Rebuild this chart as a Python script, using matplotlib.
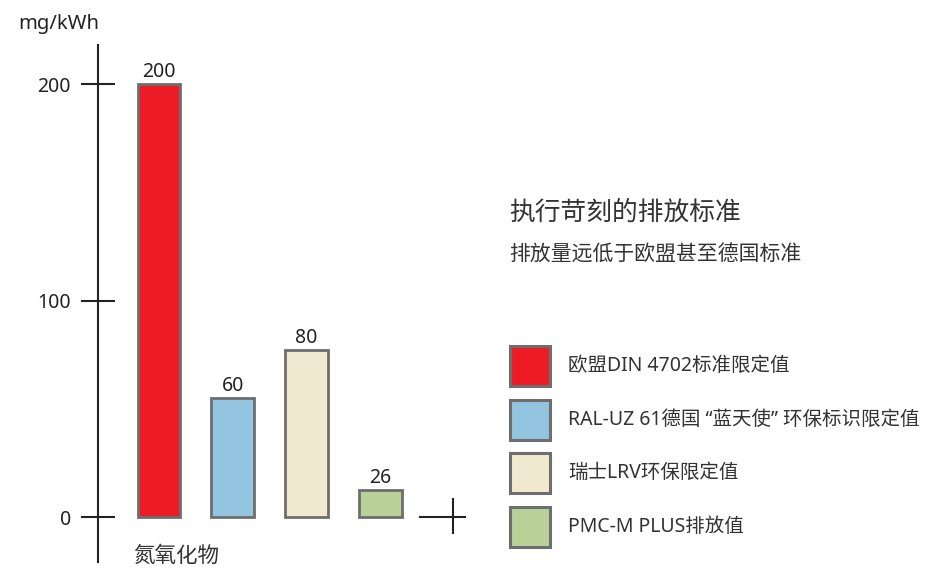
import matplotlib.pyplot as plt
from matplotlib.patches import Rectangle

plt.rcParams['font.family'] = ['Noto Sans', 'Noto Sans CJK SC']

# data
categories = ['欧盟DIN 4702标准限定值', 'RAL-UZ 61德国 “蓝天使” 环保标识限定值',
              '瑞士LRV环保限定值', 'PMC-M PLUS排放值']
bar_heights = [200, 55, 77, 12.5]
bar_texts = ['200', '60', '80', '26']
colors = ['#ED1C24', '#93C4E0', '#F1E9CF', '#B9D198']
yticks = [0, 100, 200]

W, H = 928, 569
fig = plt.figure(figsize=(W / 100, H / 100), dpi=100)
ax = fig.add_axes([0, 0, 1, 1])
ax.set_xlim(-2.155, 10.42)
ax.set_ylim(-24.0, 238.8)

x = list(range(len(bar_heights)))
bars = ax.bar(x, bar_heights, width=0.58, color=colors, edgecolor='#6e6e6e', linewidth=2)
ax.bar_label(bars, labels=bar_texts, padding=1.5, fontsize=14, color='#222222')

# vertical axis with cross ticks
for s in ['top', 'right', 'bottom']:
    ax.spines[s].set_visible(False)
ax.spines['left'].set_position(('data', -0.827))
ax.spines['left'].set_bounds(-20.8, 218)
ax.spines['left'].set_linewidth(1.5)
ax.spines['left'].set_color('#222222')
ax.set_yticks(yticks)
ax.set_yticklabels([str(v) for v in yticks], fontsize=14, color='#222222')
ax.tick_params(axis='y', direction='inout', length=25, width=1.5, color='#222222', pad=7)
ax.set_xticks([])

# small cross at the right end of baseline
ax.plot([3.537, 4.146], [0, 0], color='#222222', lw=1.5)
ax.plot([3.98, 3.98], [8.3, -7.4], color='#222222', lw=1.5)

fig.text(18 / W, 1 - 24 / H, 'mg/kWh', fontsize=14.5, va='center', color='#222222')
fig.text(133 / W, 1 - 556 / H, '氮氧化物', fontsize=15.5, va='center', color='#333333')
fig.text(509 / W, 1 - 213 / H, '执行苛刻的排放标准', fontsize=18.5, va='center', color='#333333')
fig.text(509 / W, 1 - 255 / H, '排放量远低于欧盟甚至德国标准', fontsize=15, va='center', color='#333333')

# legend drawn as squares plus text
for i, (lab, c) in enumerate(zip(categories, colors)):
    top = 346 + 53.7 * i
    fig.patches.append(Rectangle((510 / W, 1 - (top + 40) / H), 40 / W, 40 / H,
                                 transform=fig.transFigure, facecolor=c,
                                 edgecolor='#6e6e6e', linewidth=2.2))
    fig.text(568 / W, 1 - (top + 20) / H, lab, fontsize=14, va='center', color='#333333')

fig.savefig('out.png', dpi=100)
